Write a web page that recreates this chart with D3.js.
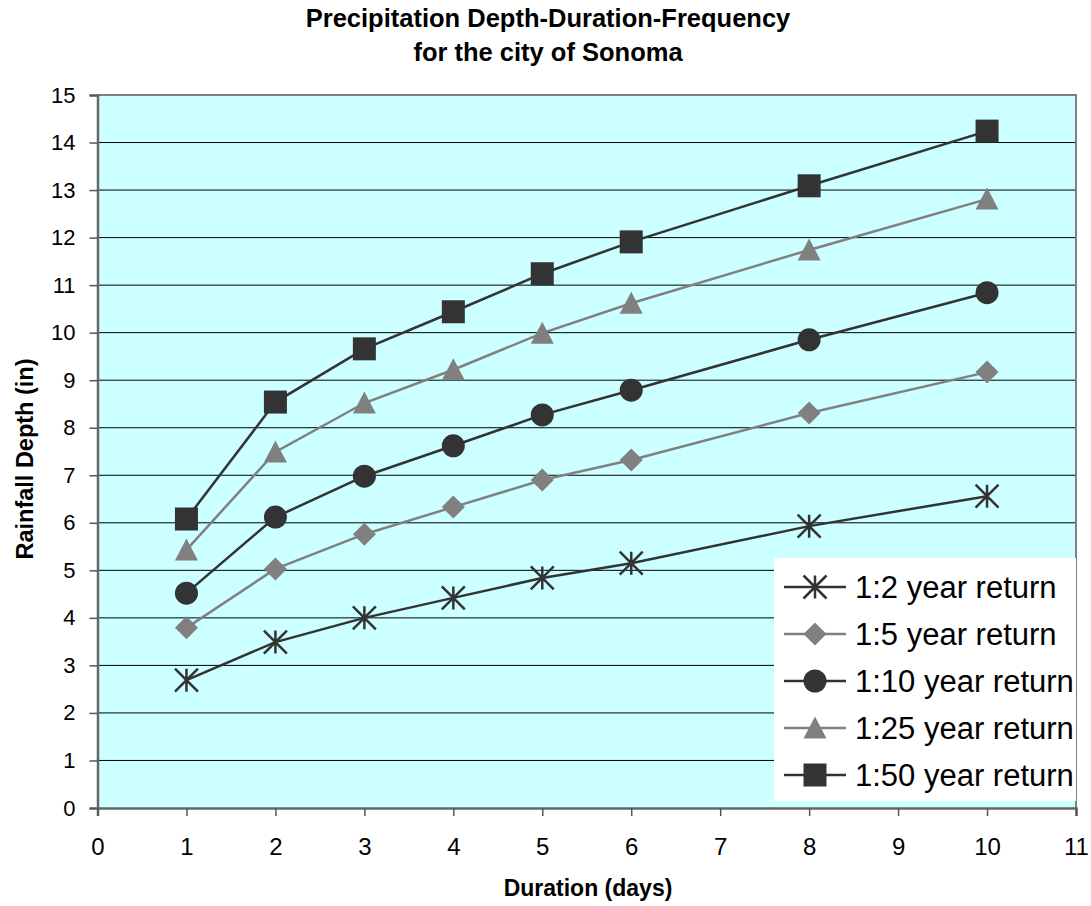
<!DOCTYPE html>
<html>
<head>
<meta charset="utf-8">
<script src="https://cdn.jsdelivr.net/npm/d3@7"></script>
<style>
  html, body { margin: 0; padding: 0; background: #fff; }
  svg { display: block; font-family: "Liberation Sans", Arial, sans-serif; }
</style>
</head>
<body>
<svg id="chart" width="1091" height="906"></svg>
<script>
// Duration in days
const durations = [1, 2, 3, 4, 5, 6, 8, 10];

// Rainfall depth (in) for each return period
const rp2  = [2.69, 3.49, 4.00, 4.42, 4.84, 5.15, 5.93, 6.56];
const rp5  = [3.79, 5.03, 5.76, 6.33, 6.90, 7.32, 8.31, 9.17];
const rp10 = [4.52, 6.12, 6.98, 7.62, 8.27, 8.79, 9.85, 10.84];
const rp25 = [5.43, 7.49, 8.52, 9.22, 9.99, 10.62, 11.74, 12.81];
const rp50 = [6.08, 8.54, 9.66, 10.44, 11.24, 11.91, 13.09, 14.24];

const seriesNames = ["1:2 year return", "1:5 year return", "1:10 year return", "1:25 year return", "1:50 year return"];
const xTicks = d3.range(0, 12);
const yTicks = d3.range(0, 16);

const series = [
  { name: seriesNames[0], values: rp2,  color: "#333333", marker: "star" },
  { name: seriesNames[1], values: rp5,  color: "#808080", marker: "diamond" },
  { name: seriesNames[2], values: rp10, color: "#333333", marker: "circle" },
  { name: seriesNames[3], values: rp25, color: "#808080", marker: "triangle" },
  { name: seriesNames[4], values: rp50, color: "#333333", marker: "square" }
];

const svg = d3.select("#chart");
const plot = { left: 97.5, top: 95, right: 1076, bottom: 808 };

const x = d3.scaleLinear().domain([0, 11]).range([plot.left, plot.right]);
const y = d3.scaleLinear().domain([0, 15]).range([plot.bottom, plot.top]);

// Plot background
svg.append("rect")
  .attr("x", plot.left).attr("y", plot.top)
  .attr("width", plot.right - plot.left).attr("height", plot.bottom - plot.top)
  .attr("fill", "#ccffff");

// Horizontal gridlines
svg.append("g").selectAll("line")
  .data(yTicks.filter(d => d > 0 && d < 15))
  .join("line")
  .attr("x1", plot.left).attr("x2", plot.right)
  .attr("y1", d => y(d)).attr("y2", d => y(d))
  .attr("stroke", "#000").attr("stroke-width", 1);

// Plot border (top and right)
svg.append("path")
  .attr("d", `M${plot.left},${plot.top}H${plot.right}V${plot.bottom}`)
  .attr("fill", "none").attr("stroke", "#808080").attr("stroke-width", 2);

// Axes
const yAxis = svg.append("g")
  .attr("transform", `translate(${plot.left},0)`)
  .call(d3.axisLeft(y).tickValues(yTicks).tickSize(8).tickPadding(14).tickFormat(d3.format("d")));
const xAxis = svg.append("g")
  .attr("transform", `translate(0,${plot.bottom})`)
  .call(d3.axisBottom(x).tickValues(xTicks).tickSize(8).tickPadding(14).tickFormat(d3.format("d")));

[yAxis, xAxis].forEach(g => {
  g.select(".domain").attr("stroke", "#666666").attr("stroke-width", 2.5);
  g.selectAll(".tick line").attr("stroke", "#555555").attr("stroke-width", 1.5);
  g.selectAll(".tick text").attr("fill", "#000")
    .style("font-family", "'Liberation Sans', Arial, sans-serif");
});
yAxis.selectAll(".tick text").style("font-size", "22px");
xAxis.selectAll(".tick text").style("font-size", "24px").attr("y", 47).attr("dy", null);

// Markers
function drawMarker(g, type, color, s) {
  const h = s / 2;
  if (type === "star") {
    g.append("path")
      .attr("d", `M${-h},${-h}L${h},${h}M${-h},${h}L${h},${-h}M0,${-h}V${h}`)
      .attr("stroke", color).attr("stroke-width", 2.5).attr("fill", "none");
  } else if (type === "diamond") {
    g.append("path").attr("d", `M0,${-h}L${h},0L0,${h}L${-h},0Z`).attr("fill", color);
  } else if (type === "circle") {
    g.append("circle").attr("r", h).attr("fill", color);
  } else if (type === "triangle") {
    g.append("path").attr("d", `M0,${-h}L${h},${h - 1}L${-h},${h - 1}Z`).attr("fill", color);
  } else if (type === "square") {
    g.append("rect").attr("x", -h).attr("y", -h).attr("width", s).attr("height", s).attr("fill", color);
  }
}

const line = d3.line().x(d => x(d[0])).y(d => y(d[1]));

series.forEach(s => {
  const pts = durations.map((d, i) => [d, s.values[i]]);
  svg.append("path")
    .attr("d", line(pts))
    .attr("fill", "none").attr("stroke", s.color).attr("stroke-width", 2.5);
  pts.forEach(p => {
    const g = svg.append("g").attr("transform", `translate(${x(p[0])},${y(p[1])})`);
    drawMarker(g, s.marker, s.color, 23);
  });
});

// Legend
const legend = svg.append("g");
legend.append("rect")
  .attr("x", 774).attr("y", 558).attr("width", 302).attr("height", 243)
  .attr("fill", "#fff");
series.forEach((s, i) => {
  const cy = 587 + i * 47;
  legend.append("line")
    .attr("x1", 784).attr("x2", 846).attr("y1", cy).attr("y2", cy)
    .attr("stroke", s.color).attr("stroke-width", 2.5);
  const g = legend.append("g").attr("transform", `translate(815,${cy})`);
  drawMarker(g, s.marker, s.color, 23);
  legend.append("text")
    .attr("x", 855).attr("y", cy + 11)
    .style("font-size", "31px").attr("fill", "#000")
    .text(s.name);
});

// Titles
const title = svg.append("text")
  .attr("text-anchor", "middle").attr("x", 548)
  .style("font-size", "25.5px").style("font-weight", "bold");
title.append("tspan").attr("x", 548).attr("y", 27).text("Precipitation Depth-Duration-Frequency");
title.append("tspan").attr("x", 548).attr("y", 61).text("for the city of Sonoma");

svg.append("text")
  .attr("text-anchor", "middle").attr("x", 588).attr("y", 896)
  .style("font-size", "23px").style("font-weight", "bold")
  .text("Duration (days)");

svg.append("text")
  .attr("text-anchor", "middle")
  .attr("transform", "translate(33,459) rotate(-90)")
  .style("font-size", "23.5px").style("font-weight", "bold")
  .text("Rainfall Depth (in)");
</script>
</body>
</html>
